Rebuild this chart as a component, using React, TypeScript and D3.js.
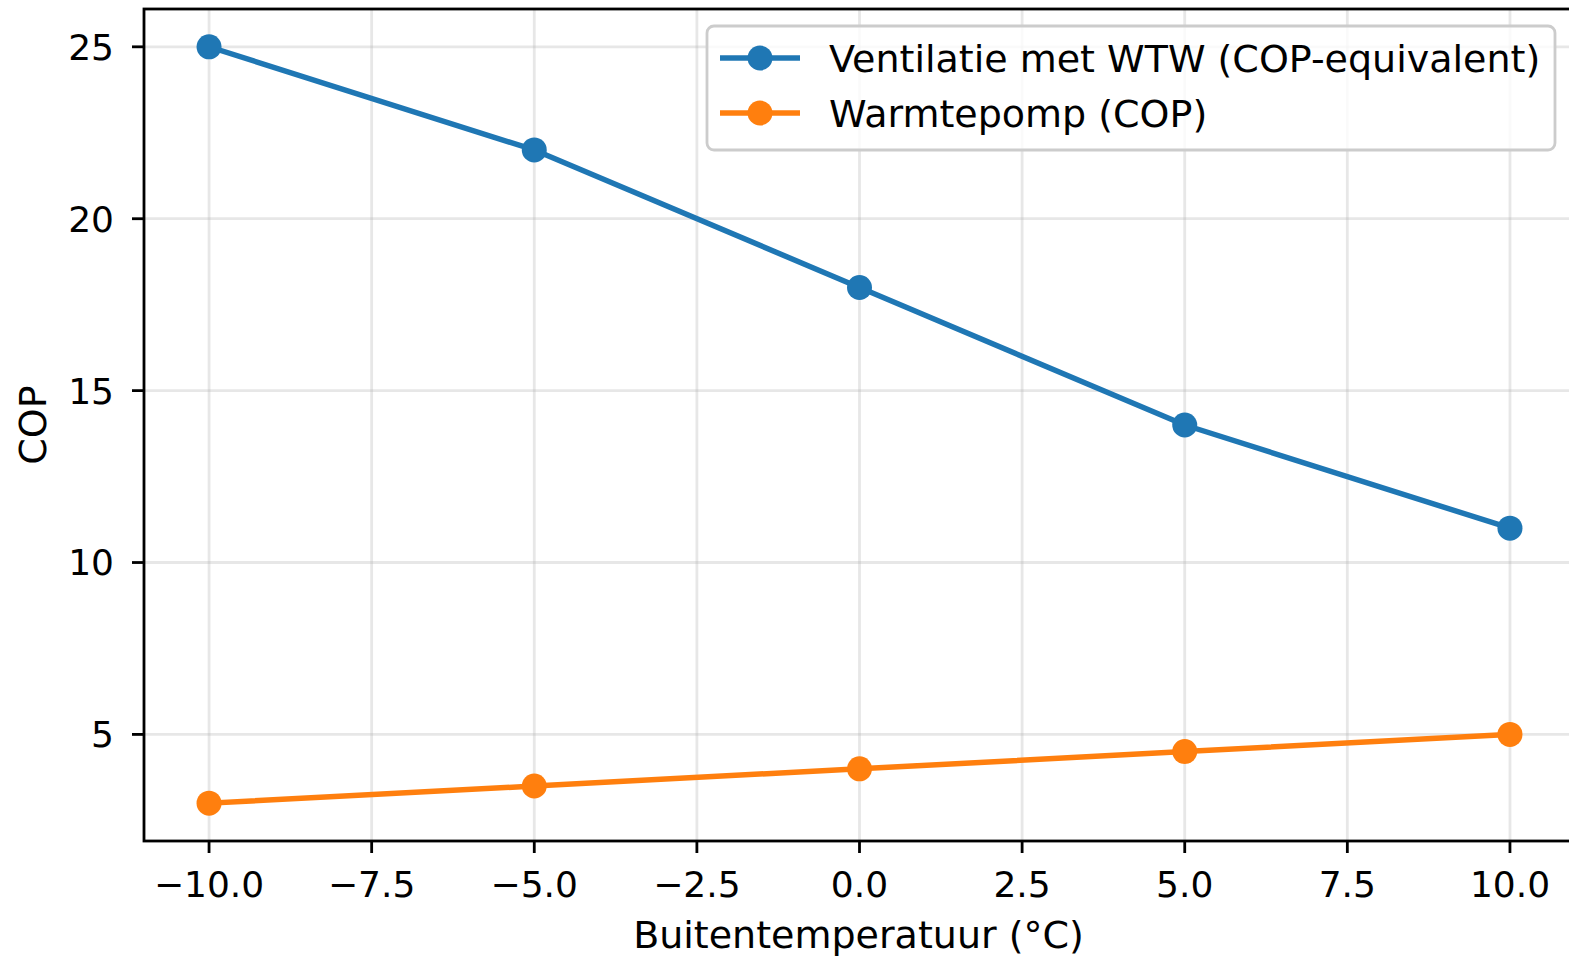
import React from "react";
import * as d3 from "d3";

const temps = [-10, -5, 0, 5, 10];
const ventilatie = [25, 22, 18, 14, 11];
const warmtepomp = [3, 3.5, 4, 4.5, 5];
const xTicks = [-10, -7.5, -5, -2.5, 0, 2.5, 5, 7.5, 10];
const yTicks = [5, 10, 15, 20, 25];
const seriesNames = ["Ventilatie met WTW (COP-equivalent)", "Warmtepomp (COP)"];
const colors = ["#1f77b4", "#ff7f0e"];

const W = 1569;
const H = 959;
const left = 144;
const right = 1575;
const top = 9;
const bottom = 841;
const FONT = "DejaVu Sans, sans-serif";
const FS = 35;
const FL = 38;

export default function App() {
  const x = d3.scaleLinear().domain([-11, 11]).range([left, right]);
  const y = d3.scaleLinear().domain([1.9, 26.1]).range([bottom, top]);
  const line = d3
    .line<number>()
    .x((_, i) => x(temps[i]))
    .y((d) => y(d));
  const fmt = (v: number) => d3.format(".1f")(v).replace("-", "\u2212");
  const series = [ventilatie, warmtepomp];

  return (
    <svg
      width={W}
      height={H}
      style={{ position: "absolute", left: 0, top: 0, background: "#fff" }}
      fontFamily={FONT}
    >
      <defs>
        <clipPath id="plot">
          <rect x={left} y={top} width={right - left} height={bottom - top} />
        </clipPath>
      </defs>
      <rect width={W} height={H} fill="#fff" />
      {/* grid */}
      <g stroke="#b0b0b0" strokeOpacity={0.3} strokeWidth={2.8}>
        {xTicks.map((t) => (
          <line key={"gx" + t} x1={x(t)} x2={x(t)} y1={top} y2={bottom} />
        ))}
        {yTicks.map((t) => (
          <line key={"gy" + t} x1={left} x2={right} y1={y(t)} y2={y(t)} />
        ))}
      </g>
      {/* series */}
      <g clipPath="url(#plot)">
        {series.map((s, si) => (
          <g key={si}>
            <path d={line(s) || ""} fill="none" stroke={colors[si]} strokeWidth={5.5} strokeLinejoin="round" strokeLinecap="square" />
            {s.map((v, i) => (
              <circle key={i} cx={x(temps[i])} cy={y(v)} r={12.5} fill={colors[si]} />
            ))}
          </g>
        ))}
      </g>
      {/* spines */}
      <rect x={left} y={top} width={right - left} height={bottom - top} fill="none" stroke="#000" strokeWidth={2.8} />
      {/* x ticks */}
      {xTicks.map((t) => (
        <g key={"xt" + t}>
          <line x1={x(t)} x2={x(t)} y1={bottom} y2={bottom + 12} stroke="#000" strokeWidth={2.8} />
          <text x={x(t)} y={897} textAnchor="middle" fontSize={FS + 1} fill="#000">
            {fmt(t)}
          </text>
        </g>
      ))}
      {/* y ticks */}
      {yTicks.map((t) => (
        <g key={"yt" + t}>
          <line x1={left - 12} x2={left} y1={y(t)} y2={y(t)} stroke="#000" strokeWidth={2.8} />
          <text x={114} y={y(t)} dy="0.36em" textAnchor="end" fontSize={FS + 1} fill="#000">
            {t}
          </text>
        </g>
      ))}
      {/* axis labels */}
      <text x={(left + right) / 2 - 1} y={948} textAnchor="middle" fontSize={FL} fill="#000">
        Buitentemperatuur (°C)
      </text>
      <text
        transform={`translate(46,${(top + bottom) / 2}) rotate(-90)`}
        textAnchor="middle"
        fontSize={FL}
        fill="#000"
      >
        COP
      </text>
      {/* legend */}
      <g>
        <rect x={707} y={26} width={848} height={124} rx={7} fill="#fff" fillOpacity={0.8} stroke="#cccccc" strokeWidth={2.8} />
        {seriesNames.map((n, i) => {
          const ly = 58 + i * 55;
          return (
            <g key={n}>
              <line x1={720} x2={800} y1={ly} y2={ly} stroke={colors[i]} strokeWidth={5.5} />
              <circle cx={760} cy={ly} r={12.5} fill={colors[i]} />
              <text x={829} y={ly} dy="0.36em" fontSize={FL} fill="#000">
                {n}
              </text>
            </g>
          );
        })}
      </g>
    </svg>
  );
}
